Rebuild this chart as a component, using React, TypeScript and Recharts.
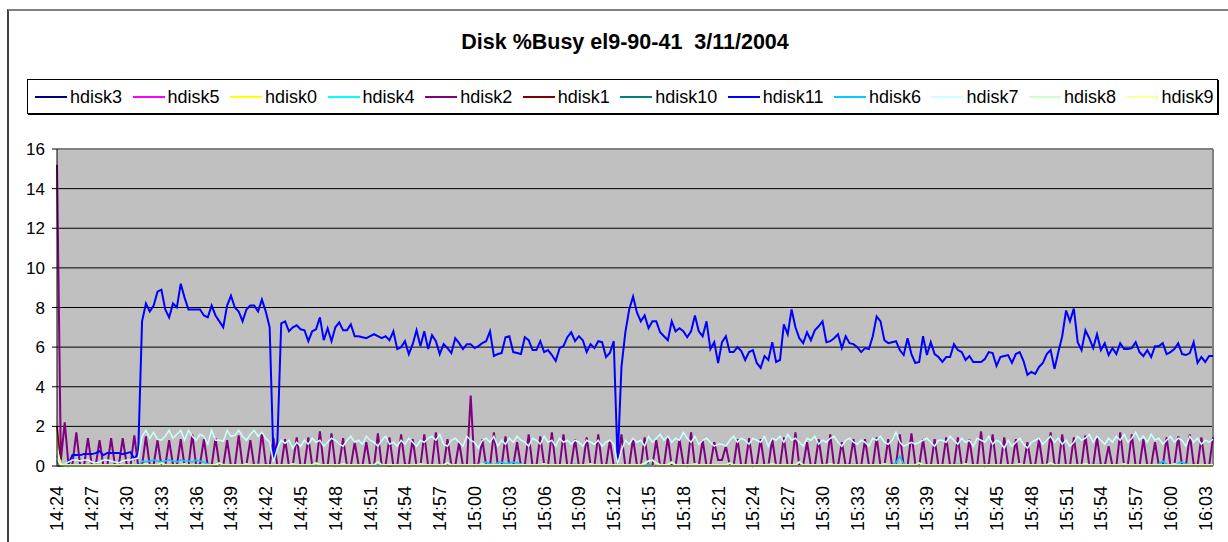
import React from "react";
import { LineChart, Line, XAxis, YAxis, CartesianGrid, ReferenceLine } from "recharts";

// samples every 20 seconds starting 14:24:00
const START_SECONDS = 14 * 3600 + 24 * 60;
const STEP_SECONDS = 20;

const tickLabels = [
  "14:24", "14:27", "14:30", "14:33", "14:36", "14:39", "14:42", "14:45", "14:48",
  "14:51", "14:54", "14:57", "15:00", "15:03", "15:06", "15:09", "15:12", "15:15",
  "15:18", "15:21", "15:24", "15:27", "15:30", "15:33", "15:36", "15:39", "15:42",
  "15:45", "15:48", "15:51", "15:54", "15:57", "16:00", "16:03",
];

const yTicks = [0, 2, 4, 6, 8, 10, 12, 14, 16];

const hdisk11 = [
  0.3,0.1,0.1,0.1,0.55,0.55,0.55,0.6,0.6,0.6,0.65,0.75,0.55,0.65,0.65,0.65,0.65,0.6,0.65,0.7,0.35,0.65,7.3,8.2,7.8,8.1,8.8,8.9,7.9,7.5,
  8.2,8.0,9.2,8.5,7.9,7.9,7.9,7.9,7.6,7.5,8.1,7.6,7.3,7.0,8.1,8.6,8.0,7.8,7.3,7.9,8.1,8.1,7.8,8.4,7.8,7.0,0.3,1.2,7.2,7.3,
  6.8,7.0,7.1,6.9,6.85,6.3,6.8,6.9,7.5,6.35,6.95,6.3,7.0,7.25,6.85,6.85,7.15,6.55,6.55,6.5,6.45,6.55,6.65,6.55,6.45,6.55,6.35,6.8,5.9,6.0,
  6.3,5.65,6.15,6.85,6.05,6.8,5.9,6.6,6.3,5.65,6.15,5.95,5.7,6.45,6.2,5.9,6.15,6.15,5.95,6.05,6.2,6.3,6.8,5.55,5.65,5.7,6.5,6.55,5.75,5.7,
  5.65,6.5,6.35,5.85,5.85,6.3,5.75,5.85,5.6,5.3,5.95,6.05,6.5,6.75,6.3,6.55,6.35,5.75,6.15,5.95,6.3,6.25,5.5,5.7,6.3,0.2,5.0,6.75,7.9,8.55,
  7.75,7.3,7.6,6.95,7.3,7.3,6.75,6.55,6.35,7.3,6.8,6.95,6.8,6.5,6.8,7.6,6.8,6.55,7.3,5.9,6.25,5.2,6.25,6.55,5.75,5.75,6.0,5.8,5.35,5.75,
  5.85,5.2,4.95,5.55,5.35,6.25,5.25,5.35,7.15,6.65,7.9,7.0,6.45,6.2,6.75,6.35,6.85,7.05,7.3,6.25,6.3,6.45,6.65,5.95,6.55,6.2,6.15,6.0,5.75,5.95,
  5.9,6.55,7.55,7.3,6.35,6.2,6.25,6.3,5.85,5.6,6.45,5.65,5.2,5.25,6.55,5.6,6.25,5.65,5.5,5.25,5.5,5.5,6.15,5.85,5.75,5.35,5.55,5.25,5.25,5.25,
  5.4,5.75,5.7,5.05,5.5,5.55,5.6,5.2,5.65,5.75,5.3,4.6,4.75,4.65,5.0,5.2,5.65,5.85,4.9,5.75,6.55,7.85,7.3,7.95,6.25,5.85,6.85,6.45,5.95,6.65,
  5.85,6.2,5.6,5.95,5.65,6.2,5.9,5.9,5.95,6.25,5.75,5.55,5.85,5.5,6.05,6.05,6.2,5.65,5.75,5.9,6.2,5.65,5.6,5.7,6.25,5.2,5.5,5.25,5.55,5.55,
];

const hdisk2 = [
  15.2,0.3,2.2,0,0.1,1.7,0,0,1.4,0.05,0,1.3,0,0,1.4,0,0.05,1.4,0.1,0,1.55,0,0,1.5,0,0.05,1.3,0,0,1.3,
  0.05,0,1.35,0,0,1.6,0,0.1,1.35,0,0,1.4,0.05,0,1.3,0,0,1.55,0,0.05,1.3,0,0,1.7,0.1,0,1.4,0,0,1.35,
  0,0.05,1.45,0,0,1.45,0.05,0,1.75,0,0,1.65,0,0.1,1.4,0,0,1.2,0.05,0,1.2,0,0,1.65,0,0.05,1.45,0,0,1.6,
  0.1,0,1.35,0,0,1.6,0,0.05,1.7,0,0,1.35,0.05,0,1.2,0,0,3.55,0,0.1,1.35,0,0,1.7,0.05,0,1.5,0,0,1.2,
  0,0.05,1.6,0,0,1.5,0.1,0,1.7,0,0,1.6,0,0.05,1.35,0,0,1.45,0.05,0,1.6,0,0,1.3,0,0.1,1.6,0,0,1.4,
  0.05,0,1.45,0,0,1.3,0,0.05,1.45,0,0,1.35,0.1,0,1.7,0,0,1.3,0,0.05,1.2,0.3,0.3,1.0,0.05,0,1.35,0,0,1.4,
  0,0.1,1.35,0,0,1.35,0,0,1.45,0,0,1.7,0,0.05,1.2,0,0,1.35,0.05,0,1.6,0,0,1.2,0,0.1,1.35,0,0,1.35,
  0.05,0,1.45,0,0,1.35,0,0.05,1.6,0,0,1.65,0.1,0,1.35,0,0,1.35,0,0.05,1.45,0,0,1.45,0.05,0,1.35,0,0,1.75,
  0,0.1,1.6,0,0,1.45,0.05,0,1.35,0,0,1.2,0,0.05,1.35,0,0,1.7,0.1,0,1.6,0,0,1.45,0,0.05,1.55,0,0,1.45,
  0.05,0,1.0,0,0,1.7,0,0.1,1.6,0,0,1.35,0.05,0,1.2,0,0,1.45,0,0.05,1.5,0,0,1.6,0.1,0,1.45,0,0,1.45,
];

const hdisk7 = [
  0.9,0.1,0.1,0.2,0.3,0.3,0.25,0.3,0.3,0.2,0.15,0.2,0.3,0.3,0.25,0.2,0.15,0.25,0.3,0.3,0.35,0.4,1.5,1.8,1.4,1.7,1.35,1.3,1.5,1.8,
  1.4,1.6,1.8,1.3,1.8,1.5,1.3,1.6,1.5,1.1,1.8,1.3,1.3,1.25,1.8,1.5,1.55,1.8,1.5,1.3,1.6,1.8,1.5,1.7,1.4,1.2,0.2,0.9,1.3,1.15,
  1.3,0.9,1.2,1.0,1.3,1.1,1.4,1.2,1.3,1.0,1.2,1.4,1.3,1.1,1.0,1.3,1.5,1.2,1.3,1.1,1.5,1.3,1.2,1.0,1.3,1.5,1.1,1.2,1.0,1.3,
  1.1,1.4,1.2,1.0,1.3,1.2,1.4,1.5,1.3,1.6,1.1,1.0,1.3,1.4,1.2,1.0,1.5,1.3,1.2,0.9,1.3,1.4,1.2,1.5,1.0,1.3,1.1,1.4,1.2,1.5,
  1.3,1.2,1.0,1.4,1.3,1.1,1.5,1.2,1.3,1.0,1.4,1.2,1.3,1.1,1.3,1.2,1.0,1.3,1.2,1.1,1.3,1.0,1.2,1.3,1.1,0.1,0.8,1.3,1.1,1.4,
  1.2,1.3,1.0,1.5,1.2,1.4,1.6,1.3,1.5,1.2,1.4,1.3,1.7,1.4,1.2,1.5,1.1,1.3,1.4,1.2,1.0,1.1,1.1,1.0,1.3,1.5,1.2,1.4,1.3,1.1,
  1.4,1.3,1.2,1.5,1.0,1.4,1.3,1.5,1.2,1.6,1.3,1.4,1.2,1.0,1.4,1.3,1.5,1.1,1.3,1.2,1.4,1.5,1.2,1.0,1.3,1.4,1.2,1.1,1.3,1.2,
  1.0,1.4,1.3,1.5,1.2,1.1,1.3,1.7,1.2,1.0,1.1,1.2,1.1,1.2,1.3,1.4,1.2,1.0,1.3,1.3,1.2,1.5,1.3,1.1,1.4,1.2,1.3,1.0,1.4,1.3,
  1.2,1.5,1.1,1.3,1.2,0.9,1.3,1.0,1.2,1.4,1.1,0.9,1.2,1.3,1.4,1.1,1.3,1.5,1.2,1.4,1.1,1.3,1.0,1.2,1.5,1.3,1.4,1.6,1.2,1.5,
  1.3,1.1,1.4,1.2,1.5,1.3,1.6,1.2,1.4,1.7,1.3,1.5,1.2,1.6,1.3,1.4,1.1,1.3,1.5,1.2,1.4,1.3,1.0,1.5,1.2,1.4,1.1,1.3,1.2,1.35,
];

const hdisk6 = [
  0.3,0,0,0,0.05,0,0,0,0.05,0,0,0,0,0.05,0,0,0,0,0.05,0,0,0,0.25,0.2,0.25,0.3,0.25,0.2,0.25,0.3,
  0.25,0.2,0.3,0.25,0.25,0.2,0.3,0.25,0.2,0.1,0.05,0,0,0.05,0,0,0,0.05,0,0,0,0,0.1,0,0,0,0,0,0,0.05,
  0,0,0,0.05,0,0,0,0.1,0,0,0,0,0.05,0,0,0,0,0,0.05,0,0,0,0,0.1,0,0,0,0,0,0,
  0,0.05,0,0,0,0,0,0,0.05,0,0,0,0,0,0,0,0.05,0,0,0,0.1,0.2,0.1,0.05,0.15,0.2,0.1,0.15,0.2,0.15,
  0.1,0.05,0,0,0,0,0,0.05,0,0,0,0,0,0,0.1,0,0,0,0,0,0,0,0.05,0,0,0,0,0,0.05,0,
  0,0,0,0.1,0,0,0,0,0,0,0.05,0,0,0,0,0,0,0,0,0.05,0,0,0,0,0,0,0,0,0.05,0,
  0,0,0,0,0.1,0,0,0,0,0,0,0,0,0,0,0,0.05,0,0,0,0,0,0,0,0,0,0.1,0,0,0,
  0,0,0,0,0,0,0.05,0.15,0.5,0.1,0,0,0,0,0,0,0,0,0,0,0,0,0,0.1,0,0,0,0,0,0,
  0,0,0,0,0,0,0,0.05,0,0,0,0,0,0,0,0,0,0,0,0,0,0,0,0,0,0,0,0,0,0.1,
  0,0,0,0,0,0,0,0,0,0,0,0,0,0,0,0.1,0.25,0.1,0,0.05,0.15,0.2,0.1,0,0,0,0,0,0,0,
];

const hdisk1 = [
  2.0,0.1,0,0,0,0.05,0,0,0,0,0.05,0,0,0,0,0,0,0,0,0.05,0,0,0,0,0,0.05,0,0,0,0,
  0,0,0,0,0.05,0,0,0,0,0,0,0,0,0,0,0,0,0.05,0,0,0,0,0,0,0,0,0,0,0,0,
  0,0,0,0,0,0,0.05,0,0,0,0,0,0,0,0,0,0,0,0,0,0.05,0,0,0,0,0,0,0,0,0,
  0,0,0,0,0,0,0,0,0,0,0,0.05,0,0,0,0,0,0,0,0,0,0,0,0,0,0,0,0,0,0,
  0,0,0,0,0,0.05,0,0,0,0,0,0,0,0,0,0,0,0,0,0,0,0,0,0,0,0,0.05,0,0,0,
  0,0,0,0,0,0,0,0,0,0,0,0,0,0,0,0,0,0,0.05,0,0,0,0,0,0,0,0,0,0,0,
  0,0,0,0,0,0,0,0,0,0,0,0.05,0,0,0,0,0,0,0,0,0,0,0,0,0.05,0,0,0,0,0,
  0,0,0,0,0,0,0,0,0.05,0,0,0,0,0,0,0,0,0,0,0,0,0,0,0,0,0,0,0,0,0,
  0,0,0,0,0,0,0,0.05,0,0,0,0,0,0,0,0,0,0,0,0.05,0,0,0,0,0,0,0,0,0,0,
  0,0,0,0,0,0,0,0,0,0,0,0,0,0,0,0,0,0,0,0,0,0,0,0.05,0,0,0,0,0,0,
];

const hdisk8 = [
  0.6,0.1,0.05,0.05,0.05,0.05,0.05,0.05,0.05,0.05,0.05,0.05,0.05,0.05,0.05,0.05,0.05,0.05,0.05,0.05,0.05,0.05,0.05,0.1,0.05,0.05,0.05,0.15,0.05,0.05,
  0.05,0.05,0.05,0.1,0.05,0.05,0.05,0.05,0.05,0.05,0.05,0.05,0.15,0.05,0.05,0.05,0.05,0.05,0.05,0.1,0.05,0.05,0.05,0.05,0.05,0.05,0.05,0.05,0.05,0.05,
  0.05,0.1,0.05,0.05,0.05,0.05,0.05,0.15,0.05,0.05,0.05,0.05,0.05,0.05,0.1,0.05,0.05,0.05,0.05,0.05,0.05,0.05,0.05,0.2,0.05,0.05,0.05,0.05,0.05,0.05,
  0.05,0.05,0.05,0.05,0.1,0.05,0.05,0.05,0.05,0.05,0.05,0.15,0.05,0.05,0.05,0.05,0.05,0.05,0.05,0.05,0.1,0.05,0.05,0.05,0.05,0.05,0.05,0.05,0.05,0.05,
  0.05,0.05,0.05,0.05,0.05,0.05,0.1,0.05,0.05,0.05,0.05,0.05,0.05,0.05,0.05,0.05,0.05,0.05,0.1,0.05,0.05,0.05,0.05,0.05,0.05,0.05,0.05,0.05,0.05,0.05,
  0.05,0.05,0.15,0.25,0.3,0.15,0.05,0.05,0.05,0.2,0.05,0.05,0.05,0.05,0.05,0.1,0.05,0.05,0.05,0.05,0.05,0.05,0.05,0.05,0.15,0.05,0.05,0.05,0.05,0.05,
  0.05,0.05,0.05,0.05,0.05,0.1,0.05,0.05,0.05,0.05,0.05,0.05,0.2,0.05,0.05,0.05,0.05,0.05,0.05,0.05,0.1,0.05,0.05,0.05,0.05,0.05,0.05,0.05,0.05,0.05,
  0.05,0.05,0.05,0.05,0.1,0.05,0.05,0.05,0.05,0.05,0.05,0.05,0.05,0.15,0.05,0.05,0.05,0.05,0.05,0.05,0.05,0.05,0.05,0.05,0.05,0.1,0.05,0.05,0.05,0.05,
  0.05,0.05,0.05,0.05,0.05,0.05,0.05,0.05,0.05,0.1,0.05,0.05,0.05,0.05,0.05,0.05,0.05,0.15,0.05,0.05,0.05,0.05,0.05,0.05,0.05,0.05,0.1,0.05,0.05,0.05,
  0.05,0.05,0.05,0.05,0.05,0.05,0.1,0.05,0.05,0.05,0.05,0.05,0.05,0.05,0.05,0.05,0.05,0.05,0.05,0.1,0.05,0.05,0.05,0.05,0.05,0.05,0.05,0.05,0.05,0.05,
];

const hdisk9 = [
  0.4,0.05,0,0,0,0,0,0,0,0,0,0,0,0,0,0,0.05,0,0,0,0,0,0,0,0,0,0,0,0,0,
  0,0,0,0,0,0,0,0,0,0,0,0.05,0,0,0,0,0,0,0,0,0,0,0,0,0,0,0,0,0,0,
  0,0,0,0,0,0,0,0,0,0,0,0,0,0,0,0,0,0,0,0,0,0,0,0,0,0,0.05,0,0,0,
  0,0,0,0,0,0,0,0,0,0,0,0,0,0,0,0,0,0,0,0,0,0,0,0,0,0,0,0,0,0,
  0,0,0,0,0,0,0,0,0,0,0,0,0,0,0,0,0,0,0,0,0,0,0,0,0,0,0,0,0,0,
  0,0,0,0,0,0,0,0,0,0,0,0,0,0,0,0,0,0,0,0,0,0,0,0,0,0,0,0,0,0,
  0,0,0,0,0,0,0,0,0,0,0,0,0,0,0,0,0,0,0,0,0,0,0,0,0,0,0,0,0,0,
  0,0,0,0,0,0,0,0,0,0,0,0,0,0,0,0,0,0,0,0,0,0,0,0,0,0,0,0,0,0,
  0,0,0,0,0,0,0,0,0,0,0,0,0,0,0,0,0,0,0,0,0,0,0,0,0,0,0,0,0,0,
  0,0,0,0,0,0,0,0,0,0,0,0,0,0,0,0,0,0,0,0,0,0,0,0,0,0,0,0,0,0,
];

const hdisk0 = [
  0.9,0.2,0,0,0,0,0,0,0,0,0,0,0,0,0,0,0,0,0,0,0,0,0,0,0,0,0,0,0,0,
  0,0,0,0,0,0,0,0,0,0,0,0,0,0,0,0,0,0,0,0,0,0,0,0,0,0,0,0,0,0,
  0,0,0,0,0,0,0,0,0,0,0,0,0,0,0,0,0,0,0,0,0,0,0,0,0,0,0,0,0,0,
  0,0,0,0,0,0,0,0,0,0,0,0,0,0,0,0,0,0,0,0,0,0,0,0,0,0,0,0,0,0,
  0,0,0,0,0,0,0,0,0,0,0,0,0,0,0,0,0,0,0,0,0,0,0,0,0,0,0,0,0,0,
  0,0,0,0,0,0,0,0,0,0,0,0,0,0,0,0,0,0,0,0,0,0,0,0,0,0,0,0,0,0,
  0,0,0,0,0,0,0,0,0,0,0,0,0,0,0,0,0,0,0,0,0,0,0,0,0,0,0,0,0,0,
  0,0,0,0,0,0,0,0,0,0,0,0,0,0,0,0,0,0,0,0,0,0,0,0,0,0,0,0,0,0,
  0,0,0,0,0,0,0,0,0,0,0,0,0,0,0,0,0,0,0,0,0,0,0,0,0,0,0,0,0,0,
  0,0,0,0,0,0,0,0,0,0,0,0,0,0,0,0,0,0,0,0,0,0,0,0,0,0,0,0,0,0,
];

const hdisk3 = [
  0.5,0.1,0,0,0,0,0,0,0,0,0,0,0,0,0,0,0,0,0,0,0,0,0,0,0,0,0,0,0,0,
  0,0,0,0,0,0,0,0,0,0,0,0,0,0,0,0,0,0,0,0,0,0,0,0,0,0,0,0,0,0,
  0,0,0,0,0,0,0,0,0,0,0,0,0,0,0,0,0,0,0,0,0,0,0,0,0,0,0,0,0,0,
  0,0,0,0,0,0,0,0,0,0,0,0,0,0,0,0,0,0,0,0,0,0,0,0,0,0,0,0,0,0,
  0,0,0,0,0,0,0,0,0,0,0,0,0,0,0,0,0,0,0,0,0,0,0,0,0,0,0,0,0,0,
  0,0,0,0,0,0,0,0,0,0,0,0,0,0,0,0,0,0,0,0,0,0,0,0,0,0,0,0,0,0,
  0,0,0,0,0,0,0,0,0,0,0,0,0,0,0,0,0,0,0,0,0,0,0,0,0,0,0,0,0,0,
  0,0,0,0,0,0,0,0,0,0,0,0,0,0,0,0,0,0,0,0,0,0,0,0,0,0,0,0,0,0,
  0,0,0,0,0,0,0,0,0,0,0,0,0,0,0,0,0,0,0,0,0,0,0,0,0,0,0,0,0,0,
  0,0,0,0,0,0,0,0,0,0,0,0,0,0,0,0,0,0,0,0,0,0,0,0,0,0,0,0,0,0,
];

const hdisk5 = [
  0.2,0,0,0,0,0,0,0,0,0,0,0,0,0,0,0,0,0,0,0,0,0,0,0,0,0,0,0,0,0,
  0,0,0,0,0,0,0,0,0,0,0,0,0,0,0,0,0,0,0,0,0,0,0,0,0,0,0,0,0,0,
  0,0,0,0,0,0,0,0,0,0,0,0,0,0,0,0,0,0,0,0,0,0,0,0,0,0,0,0,0,0,
  0,0,0,0,0,0,0,0,0,0,0,0,0,0,0,0,0,0,0,0,0,0,0,0,0,0,0,0,0,0,
  0,0,0,0,0,0,0,0,0,0,0,0,0,0,0,0,0,0,0,0,0,0,0,0,0,0,0,0,0,0,
  0,0,0,0,0,0,0,0,0,0,0,0,0,0,0,0,0,0,0,0,0,0,0,0,0,0,0,0,0,0,
  0,0,0,0,0,0,0,0,0,0,0,0,0,0,0,0,0,0,0,0,0,0,0,0,0,0,0,0,0,0,
  0,0,0,0,0,0,0,0,0,0,0,0,0,0,0,0,0,0,0,0,0,0,0,0,0,0,0,0,0,0,
  0,0,0,0,0,0,0,0,0,0,0,0,0,0,0,0,0,0,0,0,0,0,0,0,0,0,0,0,0,0,
  0,0,0,0,0,0,0,0,0,0,0,0,0,0,0,0,0,0,0,0,0,0,0,0,0,0,0,0,0,0,
];

const hdisk4 = [
  0.4,0,0,0,0,0,0,0,0,0,0,0,0,0,0,0,0,0,0,0,0,0,0,0,0,0,0,0,0,0,
  0,0,0,0,0,0,0,0,0,0,0,0,0,0,0,0,0,0,0,0,0,0,0,0,0,0,0,0,0,0,
  0,0,0,0,0,0,0,0,0,0,0,0,0,0,0,0,0,0,0,0,0,0,0,0,0,0,0,0,0,0,
  0,0,0,0,0,0,0,0,0,0,0,0,0,0,0,0,0,0,0,0,0,0,0,0,0,0,0,0,0,0,
  0,0,0,0,0,0,0,0,0,0,0,0,0,0,0,0,0,0,0,0,0,0,0,0,0,0,0,0,0,0,
  0,0,0,0,0,0,0,0,0,0,0,0,0,0,0,0,0,0,0,0,0,0,0,0,0,0,0,0,0,0,
  0,0,0,0,0,0,0,0,0,0,0,0,0,0,0,0,0,0,0,0,0,0,0,0,0,0,0,0,0,0,
  0,0,0,0,0,0,0,0,0,0,0,0,0,0,0,0,0,0,0,0,0,0,0,0,0,0,0,0,0,0,
  0,0,0,0,0,0,0,0,0,0,0,0,0,0,0,0,0,0,0,0,0,0,0,0,0,0,0,0,0,0,
  0,0,0,0,0,0,0,0,0,0,0,0,0,0,0,0,0,0,0,0,0,0,0,0,0,0,0,0,0,0,
];

const hdisk10 = [
  0.6,0,0,0,0,0,0,0,0,0,0,0,0,0,0,0,0,0,0,0,0,0,0,0,0,0,0,0,0,0,
  0,0,0,0,0,0,0,0,0,0,0,0,0,0,0,0,0,0,0,0,0,0,0,0,0,0,0,0,0,0,
  0,0,0,0,0,0,0,0,0,0,0,0,0,0,0,0,0,0,0,0,0,0,0,0,0,0,0,0,0,0,
  0,0,0,0,0,0,0,0,0,0,0,0,0,0,0,0,0,0,0,0,0,0,0,0,0,0,0,0,0,0,
  0,0,0,0,0,0,0,0,0,0,0,0,0,0,0,0,0,0,0,0,0,0,0,0,0,0,0,0,0,0,
  0,0,0,0,0,0,0,0,0,0,0,0,0,0,0,0,0,0,0,0,0,0,0,0,0,0,0,0,0,0,
  0,0,0,0,0,0,0,0,0,0,0,0,0,0,0,0,0,0,0,0,0,0,0,0,0,0,0,0,0,0,
  0,0,0,0,0,0,0,0,0,0,0,0,0,0,0,0,0,0,0,0,0,0,0,0,0,0,0,0,0,0,
  0,0,0,0,0,0,0,0,0,0,0,0,0,0,0,0,0,0,0,0,0,0,0,0,0,0,0,0,0,0,
  0,0,0,0,0,0,0,0,0,0,0,0,0,0,0,0,0,0,0,0,0,0,0,0,0,0,0,0,0,0,
];

const series = [
  { key: "hdisk3", color: "#000080", values: hdisk3, width: 1.5 },
  { key: "hdisk5", color: "#FF00FF", values: hdisk5, width: 1.5 },
  { key: "hdisk0", color: "#FFFF00", values: hdisk0, width: 1.5 },
  { key: "hdisk4", color: "#00FFFF", values: hdisk4, width: 1.5 },
  { key: "hdisk2", color: "#800080", values: hdisk2, width: 2 },
  { key: "hdisk1", color: "#800000", values: hdisk1, width: 1.5 },
  { key: "hdisk10", color: "#008080", values: hdisk10, width: 1.5 },
  { key: "hdisk11", color: "#0000FF", values: hdisk11, width: 2 },
  { key: "hdisk6", color: "#00CCFF", values: hdisk6, width: 1.5 },
  { key: "hdisk7", color: "#CCFFFF", values: hdisk7, width: 1.5 },
  { key: "hdisk8", color: "#CCFFCC", values: hdisk8, width: 2 },
  { key: "hdisk9", color: "#FFFF99", values: hdisk9, width: 2 },
];

const FONT = "'Liberation Sans', Arial, sans-serif";

const pad = (n: number) => String(n).padStart(2, "0");
const clock = (s: number) =>
  `${pad(Math.floor(s / 3600))}:${pad(Math.floor(s / 60) % 60)}:${pad(s % 60)}`;

const chartData = hdisk11.map((_, i) => {
  const row: Record<string, number | string> = { t: clock(START_SECONDS + i * STEP_SECONDS) };
  series.forEach((s) => {
    row[s.key] = s.values[i];
  });
  return row;
});

const lastTime = chartData[chartData.length - 1].t as string;

function TimeTick(props: any) {
  const { x, y, payload } = props;
  return (
    <text
      x={x}
      y={y}
      transform={`rotate(-90, ${x}, ${y})`}
      textAnchor="end"
      dy="0.36em"
      fontSize={18}
      fontFamily={FONT}
      fill="#000"
    >
      {String(payload.value).slice(0, 5)}
    </text>
  );
}

function ChartLegend() {
  return (
    <div
      style={{
        position: "absolute",
        left: 27,
        top: 79,
        width: 1191,
        height: 35,
        border: "1px solid #000",
        boxShadow: "1px 1px 0 #000",
        display: "flex",
        alignItems: "center",
        paddingLeft: 7,
        boxSizing: "border-box",
        background: "#fff",
      }}
    >
      {series.map((s) => (
        <div key={s.key} style={{ display: "flex", alignItems: "center", marginRight: 10.5 }}>
          <div style={{ width: 32, height: 2, background: s.color }} />
          <span style={{ fontSize: 18, marginLeft: 3, lineHeight: "20px" }}>{s.key}</span>
        </div>
      ))}
    </div>
  );
}

export default function App() {
  return (
    <div
      style={{
        position: "absolute",
        left: 0,
        top: 0,
        width: 1228,
        height: 542,
        overflow: "hidden",
        background: "#fff",
        fontFamily: FONT,
        color: "#000",
      }}
    >
      <div
        style={{
          position: "absolute",
          left: 7,
          top: 9,
          width: 1260,
          height: 560,
          borderTop: "2px solid #808080",
          borderLeft: "2px solid #404040",
        }}
      />
      <div style={{ position: "absolute", left: 0, top: 0 }}>
        <LineChart
          width={1228}
          height={542}
          data={chartData}
          margin={{ top: 149, right: 15, bottom: 6, left: 7 }}
        >
          <CartesianGrid vertical={false} stroke="#000" fill="#C0C0C0" fillOpacity={1} />
          <XAxis
            dataKey="t"
            ticks={tickLabels.map((l) => `${l}:00`)}
            interval={0}
            height={70}
            tickLine={false}
            tickSize={6}
            tickMargin={14}
            axisLine={{ stroke: "#000" }}
            tick={<TimeTick />}
          />
          <YAxis
            width={50}
            domain={[0, 16]}
            ticks={yTicks}
            interval={0}
            tickSize={5}
            tickMargin={7}
            axisLine={{ stroke: "#000" }}
            tickLine={{ stroke: "#000" }}
            tick={{ fill: "#000", fontSize: 17, fontFamily: FONT }}
          />
          <ReferenceLine y={16} stroke="#808080" strokeWidth={2} />
          <ReferenceLine x={lastTime} stroke="#808080" strokeWidth={2} />
          {series.map((s) => (
            <Line
              key={s.key}
              type="linear"
              dataKey={s.key}
              stroke={s.color}
              strokeWidth={s.width}
              dot={false}
              isAnimationActive={false}
            />
          ))}
        </LineChart>
      </div>
      <div
        style={{
          position: "absolute",
          left: 0,
          top: 30,
          width: 1250,
          textAlign: "center",
          fontWeight: "bold",
          fontSize: 21.5,
          lineHeight: "24px",
          whiteSpace: "pre",
        }}
      >
        Disk %Busy el9-90-41  3/11/2004
      </div>
      <ChartLegend />
    </div>
  );
}
